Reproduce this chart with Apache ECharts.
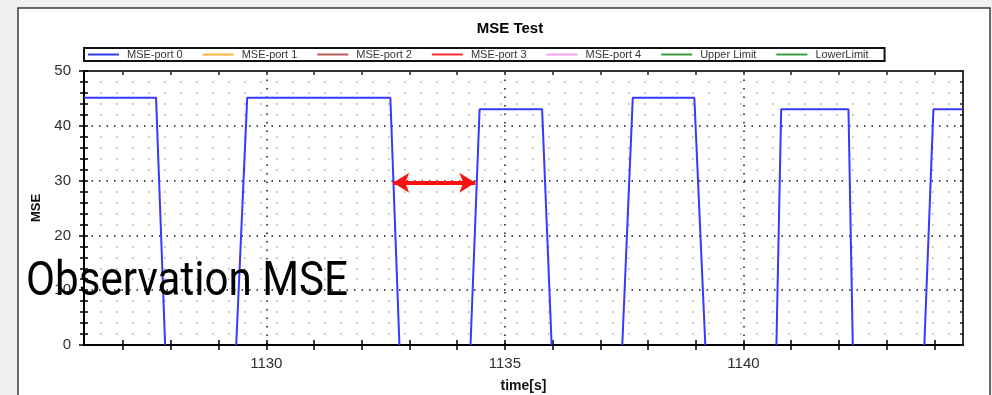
<!DOCTYPE html>
<html>
<head>
<meta charset="utf-8">
<title>MSE Test</title>
<script src="https://cdn.jsdelivr.net/npm/echarts@6/dist/echarts.min.js"></script>
<style>
    html, body { margin: 0; padding: 0; background: #f0f0f0; }
    #chart { width: 992px; height: 395px; }
</style>
</head>
<body>
<div id="chart"></div>
<script>
// time axis window and ticks
var timeMin = 1126.18;
var timeMax = 1144.6;
var timeLabels = [1130, 1135, 1140];
var timeTicks = [1127, 1128, 1129, 1130, 1131, 1132, 1133, 1134, 1135, 1136, 1137, 1138, 1139, 1140, 1141, 1142, 1143, 1144];

// MSE-port 0 trace (null = pen lifted while at 0)
var traceTime = [1126.18, 1127.69, 1127.88, null, 1129.37, 1129.60, 1132.60, 1132.79, null,
    1134.28, 1134.47, 1135.78, 1135.98, null, 1137.46, 1137.68, 1138.97, 1139.20, null,
    1140.69, 1140.79, 1142.20, 1142.29, null, 1143.79, 1143.98, 1144.6];
var traceMse = [45.1, 45.1, 0, null, 0, 45.1, 45.1, 0, null,
    0, 43, 43, 0, null, 0, 45.1, 45.1, 0, null,
    0, 43, 43, 0, null, 0, 43, 43];

// red double arrow between the two edges
var arrowTime = [1132.66, 1134.38];
var arrowMse = 29.6;

var legendNames = ['MSE-port 0', 'MSE-port 1', 'MSE-port 2', 'MSE-port 3', 'MSE-port 4', 'Upper Limit', 'LowerLimit'];
var legendColors = ['#3838ff', '#ffb43c', '#b85a5a', '#ff2a2a', '#ff9cec', '#3c9c3c', '#3c9c3c'];

var font = 'Liberation Sans, Arial, sans-serif';

var port0Data = traceTime.map(function (t, i) {
    if (t === null) {
        return [traceTime[i - 1], '-'];
    }
    return [t, traceMse[i]];
});

var series = legendNames.map(function (name, i) {
    return {
        name: name,
        type: 'line',
        symbol: 'none',
        xAxisIndex: 0,
        yAxisIndex: 0,
        color: legendColors[i],
        lineStyle: {width: 2, color: legendColors[i]},
        connectNulls: false,
        animation: false,
        data: []
    };
});
series[0].data = port0Data;
series[0].z = 3;
series[0].markLine = {
    silent: true,
    animation: false,
    symbol: ['arrow', 'arrow'],
    symbolSize: [15, 16],
    label: {show: false},
    lineStyle: {color: '#ff1010', width: 4, type: 'solid'},
    data: [[
        {coord: [arrowTime[0], arrowMse]},
        {coord: [arrowTime[1], arrowMse]}
    ]]
};

var labelColor = '#2e2e2e';

var chart = echarts.init(document.getElementById('chart'));

var option = {
    backgroundColor: '#f0f0f0',
    animation: false,
    title: {
        text: 'MSE Test',
        left: 505,
        top: 16,
        textAlign: 'center',
        textStyle: {fontFamily: font, fontWeight: 'bold', fontSize: 15, color: '#000'}
    },
    legend: {
        data: legendNames,
        left: 84,
        top: 48,
        orient: 'horizontal',
        icon: 'rect',
        itemWidth: 31,
        itemHeight: 2,
        itemGap: 20,
        padding: [1, 16, 1, 4],
        borderColor: '#111',
        borderWidth: 2,
        backgroundColor: '#fff',
        selectedMode: false,
        textStyle: {fontFamily: font, fontSize: 11, color: '#3a3434', padding: [0, 0, 0, 3]}
    },
    grid: {
        left: 84,
        right: 29,
        top: 71,
        bottom: 50,
        outerBoundsMode: 'none'
    },
    xAxis: [{
        type: 'value',
        position: 'bottom',
        min: timeMin,
        max: timeMax,
        name: 'time[s]',
        nameLocation: 'middle',
        nameGap: 34,
        nameTextStyle: {fontFamily: font, fontWeight: 'bold', fontSize: 14, color: '#111'},
        axisLine: {show: true, onZero: false, lineStyle: {color: '#000', width: 2}},
        axisTick: {show: true, customValues: timeTicks, length: 5, lineStyle: {color: '#000', width: 1.5}},
        axisLabel: {
            customValues: timeLabels,
            margin: 11,
            color: labelColor,
            fontFamily: font,
            fontSize: 15,
            formatter: function (v) {
                return String(v);
            }
        },
        splitLine: {show: false}
    }, {
        // inner half of the bottom ticks
        type: 'value',
        position: 'bottom',
        min: timeMin,
        max: timeMax,
        axisLine: {show: false, onZero: false},
        axisTick: {show: true, inside: true, customValues: timeTicks, length: 5, lineStyle: {color: '#000', width: 1.5}},
        axisLabel: {show: false},
        splitLine: {show: false}
    }, {
        // dotted major grid at 5 s
        type: 'value',
        position: 'bottom',
        min: timeMin,
        max: timeMax,
        axisLine: {show: false, onZero: false},
        axisTick: {show: false, customValues: timeLabels},
        axisLabel: {show: false},
        splitLine: {show: true, lineStyle: {color: '#111', width: 1.5, type: [1.5, 7]}}
    }, {
        // top frame
        type: 'value',
        position: 'top',
        min: timeMin,
        max: timeMax,
        axisLine: {show: true, onZero: false, lineStyle: {color: '#333', width: 2}},
        axisTick: {show: true, inside: true, customValues: timeTicks, length: 4, lineStyle: {color: '#222', width: 1.5}},
        axisLabel: {show: false},
        splitLine: {show: false}
    }],
    yAxis: [{
        type: 'value',
        position: 'left',
        min: 0,
        max: 50,
        interval: 10,
        name: 'MSE',
        nameLocation: 'middle',
        nameGap: 38,
        nameTextStyle: {fontFamily: font, fontWeight: 'bold', fontSize: 13, color: '#111'},
        axisLine: {show: true, onZero: false, lineStyle: {color: '#000', width: 2}},
        axisTick: {show: true, length: 5, lineStyle: {color: '#000', width: 1.5}},
        minorTick: {show: true, splitNumber: 5, length: 4, lineStyle: {color: '#000', width: 1.5}},
        axisLabel: {margin: 13, color: labelColor, fontFamily: font, fontSize: 15},
        splitLine: {show: true, lineStyle: {color: '#111', width: 1.5, type: [1.5, 6]}},
        minorSplitLine: {show: true, lineStyle: {color: '#a8a8a8', width: 1.5, type: [1.5, 14.5]}}
    }, {
        // inner half of the left ticks
        type: 'value',
        position: 'left',
        min: 0,
        max: 50,
        interval: 2,
        axisLine: {show: false, onZero: false},
        axisTick: {show: true, inside: true, length: 4, lineStyle: {color: '#000', width: 1.5}},
        axisLabel: {show: false},
        splitLine: {show: false}
    }, {
        // right frame
        type: 'value',
        position: 'right',
        min: 0,
        max: 50,
        interval: 2,
        axisLine: {show: true, onZero: false, lineStyle: {color: '#333', width: 2}},
        axisTick: {show: true, inside: true, length: 3, lineStyle: {color: '#222', width: 1.5}},
        axisLabel: {show: false},
        splitLine: {show: false}
    }],
    graphic: [{
        type: 'rect',
        z: -100,
        silent: true,
        shape: {x: 18, y: 8, width: 972, height: 400},
        style: {fill: '#fff', stroke: '#3a3a3a', lineWidth: 1.5}
    }, {
        type: 'text',
        z: 100,
        silent: true,
        x: 26,
        y: 283,
        scaleX: 0.86,
        style: {
            text: 'Observation MSE',
            fill: '#000',
            font: '49px Roboto, "Noto Sans", sans-serif',
            verticalAlign: 'middle',
            align: 'left'
        }
    }],
    series: series
};

chart.setOption(option);
</script>
</body>
</html>
